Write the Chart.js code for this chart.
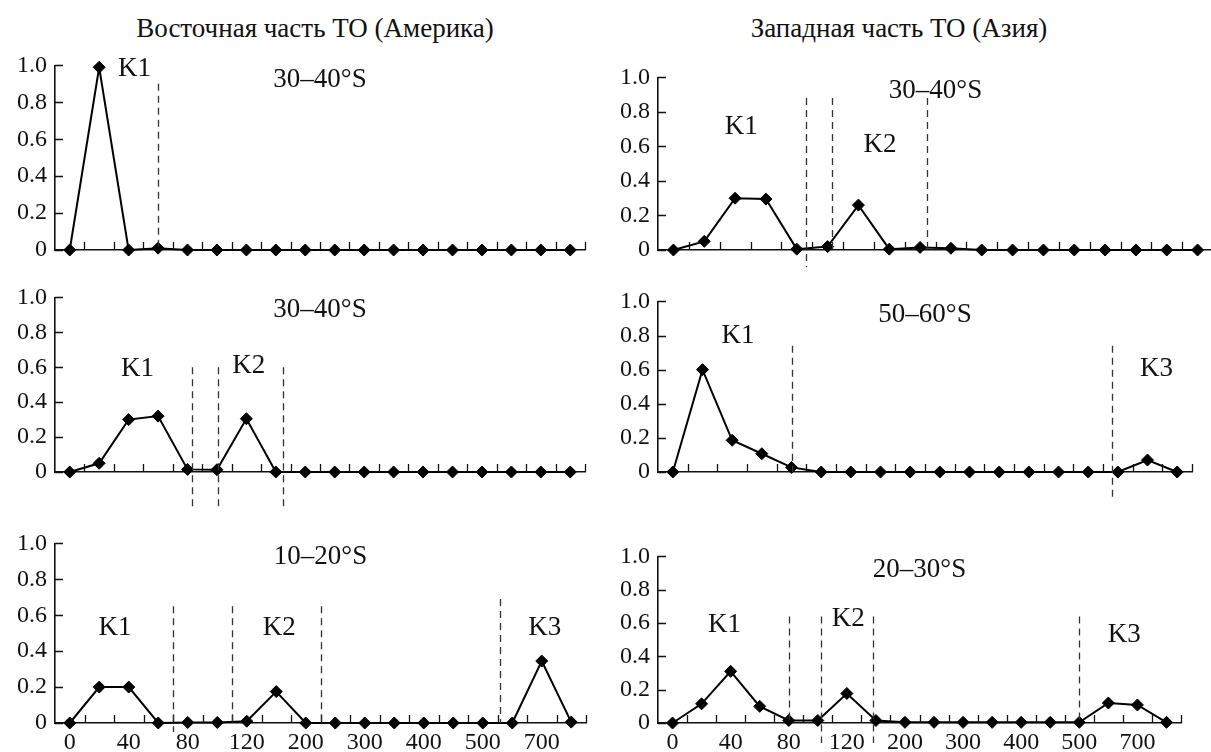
<!DOCTYPE html>
<html><head><meta charset="utf-8">
<script src="https://cdn.jsdelivr.net/npm/chart.js@4.4.1/dist/chart.umd.min.js"></script>
<style>
html,body{margin:0;padding:0;background:#fff;overflow:hidden;width:1211px;height:752px;}
#wrap{position:relative;width:1211px;height:752px;overflow:hidden;background:#fff;}
canvas{position:absolute;}
.title{position:absolute;font-family:'Liberation Serif',serif;font-size:27px;color:#111;white-space:nowrap;transform:translateX(-50%);line-height:30px;}
</style></head><body><div id="wrap">
<div class="title" style="left:315px;top:13px">Восточная часть ТО (Америка)</div>
<div class="title" style="left:899px;top:13px">Западная часть ТО (Азия)</div>
</div>
<script>
// ---- data ----
const categories = ['0','20','40','60','80','100','120','160','200','250','300','350','400','450','500','600','700','800'];
const xTickLabels = ['0','40','80','120','200','300','400','500','700'];
const yTickValues = [0, 0.2, 0.4, 0.6, 0.8, 1.0];

const east3040a = [0, 0.99, 0, 0.01, 0, 0, 0, 0, 0, 0, 0, 0, 0, 0, 0, 0, 0, 0];
const west3040  = [0, 0.05, 0.30, 0.295, 0.005, 0.02, 0.26, 0.005, 0.015, 0.01, 0, 0, 0, 0, 0, 0, 0, 0];
const east3040b = [0, 0.05, 0.30, 0.32, 0.015, 0.013, 0.305, 0, 0, 0, 0, 0, 0, 0, 0, 0, 0, 0];
const west5060  = [0, 0.60, 0.186, 0.107, 0.027, 0, 0, 0, 0, 0, 0, 0, 0, 0, 0, 0, 0.07, 0];
const east1020  = [0, 0.20, 0.20, 0, 0.003, 0.003, 0.01, 0.175, 0, 0, 0, 0, 0, 0, 0, 0, 0.345, 0.005];
const west2030  = [0, 0.115, 0.31, 0.10, 0.015, 0.015, 0.177, 0.015, 0.004, 0.004, 0.004, 0.004, 0.004, 0.004, 0.004, 0.12, 0.108, 0.004];

// class boundaries: [category position, top value, bottom value]
const dashesA = [[3.0, 0.90, 0]];
const dashesB = [[4.3, 0.88, -0.1], [5.15, 0.88, 0], [8.23, 0.88, 0]];
const dashesC = [[4.15, 0.60, -0.2], [5.05, 0.60, -0.2], [7.25, 0.60, -0.2]];
const dashesD = [[4.0, 0.74, 0], [14.8, 0.74, -0.16]];
const dashesE = [[3.5, 0.65, -0.05], [5.5, 0.65, 0], [8.5, 0.65, 0], [14.6, 0.69, 0]];
const dashesF = [[4.0, 0.64, 0], [5.1, 0.64, -0.12], [6.9, 0.64, -0.12], [14.0, 0.64, 0]];

// annotations: [text, category position, value]
const notesA = [['K1', 2.2, 0.98], ['30–40°S', 8.5, 0.92]];
const notesB = [['K1', 2.2, 0.716], ['K2', 6.7, 0.61], ['30–40°S', 8.5, 0.92]];
const notesC = [['K1', 2.3, 0.59], ['K2', 6.08, 0.61], ['30–40°S', 8.5, 0.93]];
const notesD = [['K1', 2.2, 0.80], ['K3', 16.3, 0.605], ['50–60°S', 8.5, 0.92]];
const notesE = [['K1', 1.53, 0.53], ['K2', 7.1, 0.53], ['K3', 16.1, 0.53], ['10–20°S', 8.5, 0.924]];
const notesF = [['K1', 1.79, 0.59], ['K2', 6.05, 0.625], ['K3', 15.55, 0.53], ['20–30°S', 8.5, 0.92]];

// ---- layout ----
const FONT = "'Liberation Serif', 'Times New Roman', serif";
Chart.defaults.font.family = FONT;
Chart.defaults.font.size = 24;
Chart.defaults.color = '#111';
const YW = 55, PADT = 16;
const panels = [
  {data: east3040a, dashes: dashesA, notes: notesA, axisX: 55,  xEnd: 592,  yTop: 59,  yZero: 250, showX: false, xh: 40},
  {data: west3040,  dashes: dashesB, notes: notesB, axisX: 658, xEnd: 1220, yTop: 71,  yZero: 250, showX: false, xh: 40},
  {data: east3040b, dashes: dashesC, notes: notesC, axisX: 55,  xEnd: 592,  yTop: 291, yZero: 472, showX: false, xh: 45},
  {data: west5060,  dashes: dashesD, notes: notesD, axisX: 658, xEnd: 1199, yTop: 295, yZero: 472, showX: false, xh: 45},
  {data: east1020,  dashes: dashesE, notes: notesE, axisX: 55,  xEnd: 593,  yTop: 537, yZero: 723, showX: true,  xh: 40},
  {data: west2030,  dashes: dashesF, notes: notesF, axisX: 658, xEnd: 1188, yTop: 550, yZero: 723, showX: true,  xh: 40}
];

const decor = {
  id: 'decor',
  afterDraw(chart, args, opts) {
    const {ctx, chartArea: a} = chart;
    const x = chart.scales.x, y = chart.scales.y;
    ctx.save();
    // inward tick marks
    ctx.strokeStyle = '#111'; ctx.lineWidth = 1.3;
    ctx.beginPath();
    for (let i = 0; i < categories.length; i++) {
      const px = Math.round(x.getPixelForValue(i + 0.5)) + 0.5;
      ctx.moveTo(px, a.bottom); ctx.lineTo(px, a.bottom - 8);
    }
    for (const v of yTickValues) {
      const py = Math.round(y.getPixelForValue(v)) + 0.5;
      ctx.moveTo(a.left, py); ctx.lineTo(a.left + 8, py);
    }
    ctx.stroke();
    // dashed class boundaries
    ctx.setLineDash([7, 5]); ctx.strokeStyle = '#333'; ctx.lineWidth = 1.3;
    for (const [p, t, b] of opts.dashes) {
      const px = Math.round(x.getPixelForValue(p)) + 0.5;
      ctx.beginPath();
      ctx.moveTo(px, y.getPixelForValue(t)); ctx.lineTo(px, y.getPixelForValue(b));
      ctx.stroke();
    }
    ctx.setLineDash([]);
    // annotations
    ctx.fillStyle = '#111'; ctx.textAlign = 'center'; ctx.textBaseline = 'middle';
    ctx.font = '27px ' + FONT;
    for (const [txt, p, v] of opts.notes) {
      ctx.fillText(txt, x.getPixelForValue(p), y.getPixelForValue(v));
    }
    ctx.restore();
  }
};

const wrap = document.getElementById('wrap');
panels.forEach(p => {
  const cv = document.createElement('canvas');
  const left = p.axisX - YW, top = p.yTop - PADT;
  const w = p.xEnd - left, h = (p.yZero - p.yTop) + PADT + p.xh;
  cv.width = w; cv.height = h;
  cv.style.left = left + 'px'; cv.style.top = top + 'px';
  cv.style.width = w + 'px'; cv.style.height = h + 'px';
  wrap.appendChild(cv);
  new Chart(cv, {
    type: 'line',
    data: {
      labels: categories,
      datasets: [{
        data: p.data,
        borderColor: '#000', borderWidth: 2, tension: 0,
        pointStyle: 'rectRot', pointRadius: 6, pointBackgroundColor: '#000',
        pointBorderColor: '#000', pointBorderWidth: 1, clip: false
      }]
    },
    options: {
      responsive: false, animation: false, devicePixelRatio: 1,
      layout: {padding: {top: PADT, left: 0, right: 0, bottom: 0}},
      plugins: {legend: {display: false}, tooltip: {enabled: false}, decor: {dashes: p.dashes, notes: p.notes}},
      scales: {
        x: {
          type: 'category', offset: true,
          grid: {display: false, drawTicks: false},
          border: {display: true, color: '#111', width: 1.6},
          ticks: {
            display: p.showX, autoSkip: false, maxRotation: 0, padding: 5,
            color: '#111', font: {family: FONT, size: 24},
            callback: (v, i) => xTickLabels.includes(categories[i]) ? categories[i] : ''
          },
          afterFit: s => { s.height = p.xh; }
        },
        y: {
          min: 0, max: 1,
          grid: {display: false, drawTicks: false},
          border: {display: true, color: '#111', width: 1.6},
          ticks: {
            stepSize: 0.2, padding: 8, color: '#111', font: {family: FONT, size: 24},
            callback: v => v === 0 ? '0' : Number(v).toFixed(1)
          },
          afterFit: s => { s.width = YW; }
        }
      }
    },
    plugins: [decor]
  });
});
</script>
</body></html>
